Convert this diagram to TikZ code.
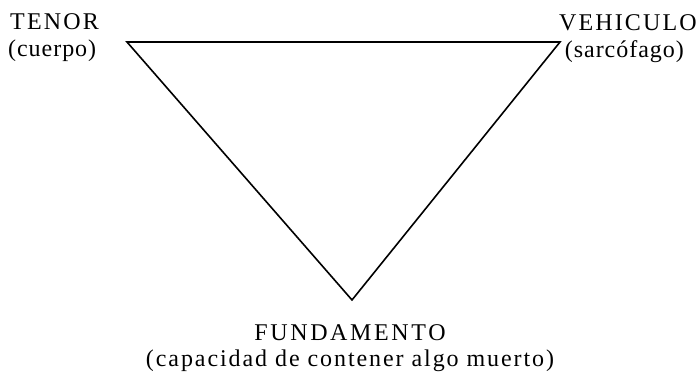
\documentclass[tikz,border=0pt]{standalone}
\usepackage{fontspec}
\setmainfont{Liberation Serif}
\newfontfamily\capsfont[LetterSpace=9]{Liberation Serif}
\newfontfamily\wcapsfont[LetterSpace=11]{Liberation Serif}
\newfontfamily\lowfont[LetterSpace=4]{Liberation Serif}
\newfontfamily\wlowfont[LetterSpace=8]{Liberation Serif}
\begin{document}
\begin{tikzpicture}[x=1pt,y=-1pt,
  lbl/.style={inner sep=0pt,font=\lowfont\fontsize{24}{28}\selectfont},
  wlbl/.style={inner sep=0pt,font=\wlowfont\fontsize{24}{28}\selectfont},
  clbl/.style={inner sep=0pt,font=\capsfont\fontsize{24}{28}\selectfont},
  wclbl/.style={inner sep=0pt,font=\wcapsfont\fontsize{24}{28}\selectfont},
  tri/.style={line width=1.6pt,line join=miter}]
\useasboundingbox (0,0) rectangle (699,377);
\coordinate (tl) at (127,42);
\coordinate (tr) at (560,42);
\coordinate (bt) at (352,300);
\draw[tri] (tl) -- (tr) -- (bt) -- cycle;
\node[clbl,anchor=base west] (tenor) at (10,30) {TENOR};
\node[lbl,anchor=base west] (cuerpo) at (8,57) {(cuerpo)};
\node[clbl,anchor=base east] (veh) at (697,31) {VEHICULO};
\node[lbl,anchor=base east] (sarc) at (684,58) {(sarcófago)};
\node[wclbl,anchor=base] (fund) at (350,340) {FUNDAMENTO};
\node[wlbl,anchor=base] (cap) at (350,366) {(capacidad de contener algo muerto)};
\end{tikzpicture}
\end{document}
